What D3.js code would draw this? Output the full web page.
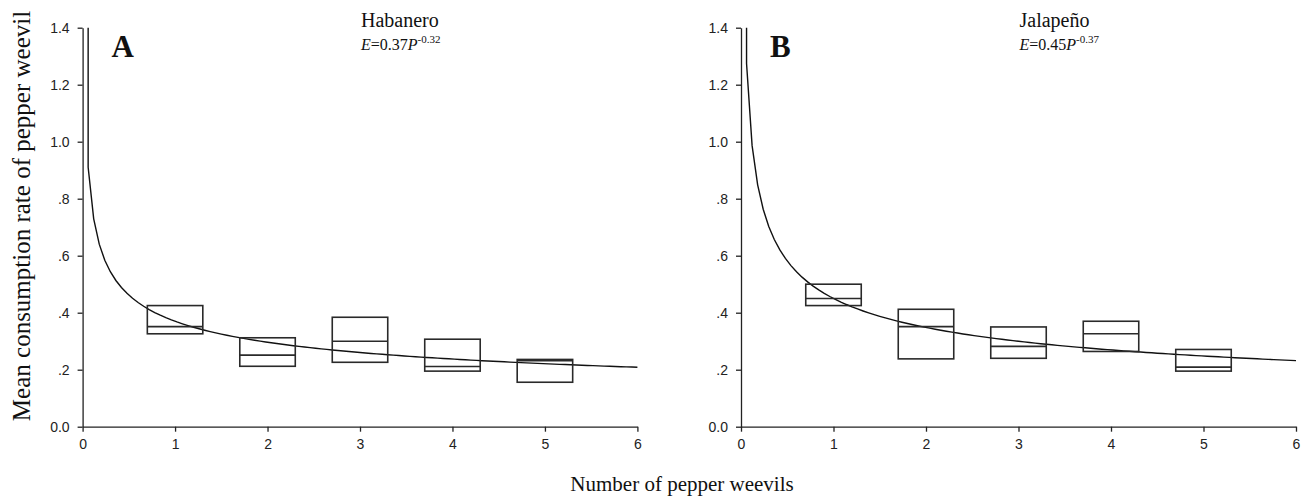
<!DOCTYPE html>
<html>
<head>
<meta charset="utf-8">
<script src="https://cdn.jsdelivr.net/npm/d3@7"></script>
<style>
  body { margin: 0; background: #fff; }
  svg { display: block; }
</style>
</head>
<body>
<svg id="chart"></svg>
<script>
// number of weevils per box
const weevils = [1, 2, 3, 4, 5];

// Habanero boxes (lower edge, middle line, upper edge)
const habLow  = [0.326, 0.212, 0.226, 0.195, 0.156];
const habMid  = [0.351, 0.251, 0.300, 0.211, 0.232];
const habHigh = [0.425, 0.312, 0.384, 0.307, 0.236];

// Jalapeno boxes
const jalLow  = [0.425, 0.238, 0.240, 0.264, 0.195];
const jalMid  = [0.450, 0.351, 0.282, 0.326, 0.209];
const jalHigh = [0.500, 0.412, 0.350, 0.370, 0.271];

// fitted power curves E = a * P^b
const habFit = [0.37, -0.32];
const jalFit = [0.45, -0.37];

const xTicks = [0, 1, 2, 3, 4, 5, 6];
const yTicks = [0, 0.2, 0.4, 0.6, 0.8, 1.0, 1.2, 1.4];
const yTickLabels = ["0.0", ".2", ".4", ".6", ".8", "1.0", "1.2", "1.4"];

const width = 1309, height = 498;
const sans = "'Liberation Sans', Arial, sans-serif";
const serif = "'Liberation Serif', 'Times New Roman', serif";

const svg = d3.select("#chart")
  .attr("width", width)
  .attr("height", height);

const y = d3.scaleLinear().domain([0, 1.4]).range([426.7, 27.7]);

const drawPanel = (x0, x1, low, mid, high, fit, letter, name, fitLabel) => {
  const x = d3.scaleLinear().domain([0, 6]).range([x0, x1]);
  const g = svg.append("g");

  const xAxis = g.append("g")
    .attr("transform", `translate(0,${y(0)})`)
    .call(d3.axisBottom(x).tickValues(xTicks).tickFormat(d3.format("d"))
      .tickSizeInner(5).tickSizeOuter(0).tickPadding(7));

  const yAxis = g.append("g")
    .attr("transform", `translate(${x0},0)`)
    .call(d3.axisLeft(y).tickValues(yTicks).tickFormat((d, i) => yTickLabels[i])
      .tickSizeInner(5).tickSizeOuter(0).tickPadding(8));

  [xAxis, yAxis].forEach(ax => {
    ax.attr("font-family", sans).attr("font-size", 14);
    ax.selectAll("path, line").attr("stroke", "#222").attr("stroke-width", 1.3);
    ax.selectAll("text").attr("fill", "#222");
  });

  // fitted curve, sampled like the original plot and clipped at the top
  const pts = [];
  for (let p = 0.06; p <= 6.0001; p += 0.06) pts.push([p, fit[0] * Math.pow(p, fit[1])]);
  pts.unshift([pts[0][0], 1.4]);
  g.append("path")
    .datum(pts.map(d => [d[0], Math.min(d[1], 1.4)]))
    .attr("fill", "none")
    .attr("stroke", "#111")
    .attr("stroke-width", 1.4)
    .attr("d", d3.line().x(d => x(d[0])).y(d => y(d[1])));

  // boxes
  const half = 0.3;
  const boxes = g.append("g").selectAll("g")
    .data(weevils.map((w, i) => ({ w, lo: low[i], md: mid[i], hi: high[i] })))
    .join("g");

  boxes.append("rect")
    .attr("x", d => x(d.w - half))
    .attr("y", d => y(d.hi))
    .attr("width", d => x(d.w + half) - x(d.w - half))
    .attr("height", d => y(d.lo) - y(d.hi))
    .attr("fill", "none")
    .attr("stroke", "#2a2a2a")
    .attr("stroke-width", 1.6);

  boxes.append("line")
    .attr("x1", d => x(d.w - half))
    .attr("x2", d => x(d.w + half))
    .attr("y1", d => y(d.md))
    .attr("y2", d => y(d.md))
    .attr("stroke", "#2a2a2a")
    .attr("stroke-width", 1.6);

  // panel letter
  g.append("text")
    .attr("x", x0 + 29)
    .attr("y", 57)
    .attr("font-family", serif)
    .attr("font-weight", "bold")
    .attr("font-size", 31)
    .attr("fill", "#111")
    .text(letter);

  // cultivar name and fitted equation
  g.append("text")
    .attr("x", x(3) + 1)
    .attr("y", 27)
    .attr("font-family", serif)
    .attr("font-size", 20)
    .attr("fill", "#111")
    .text(name);

  const eq = g.append("text")
    .attr("x", x(3) + 1)
    .attr("y", 50)
    .attr("font-family", serif)
    .attr("font-size", 16)
    .attr("fill", "#111");
  eq.append("tspan").attr("font-style", "italic").text("E");
  eq.append("tspan").text("=" + fitLabel[0]);
  eq.append("tspan").attr("font-style", "italic").text("P");
  eq.append("tspan").attr("font-size", 11).attr("dy", -7).text(fitLabel[1]);
};

drawPanel(82.6, 637.4, habLow, habMid, habHigh, habFit, "A", "Habanero", ["0.37", "-0.32"]);
drawPanel(741, 1296, jalLow, jalMid, jalHigh, jalFit, "B", "Jalapeño", ["0.45", "-0.37"]);

// shared axis titles
svg.append("text")
  .attr("transform", "translate(30,216) rotate(-90)")
  .attr("text-anchor", "middle")
  .attr("font-family", serif)
  .attr("font-size", 25)
  .attr("fill", "#111")
  .text("Mean consumption rate of pepper weevil");

svg.append("text")
  .attr("x", 682)
  .attr("y", 491)
  .attr("text-anchor", "middle")
  .attr("font-family", serif)
  .attr("font-size", 21)
  .attr("fill", "#111")
  .text("Number of pepper weevils");
</script>
</body>
</html>
